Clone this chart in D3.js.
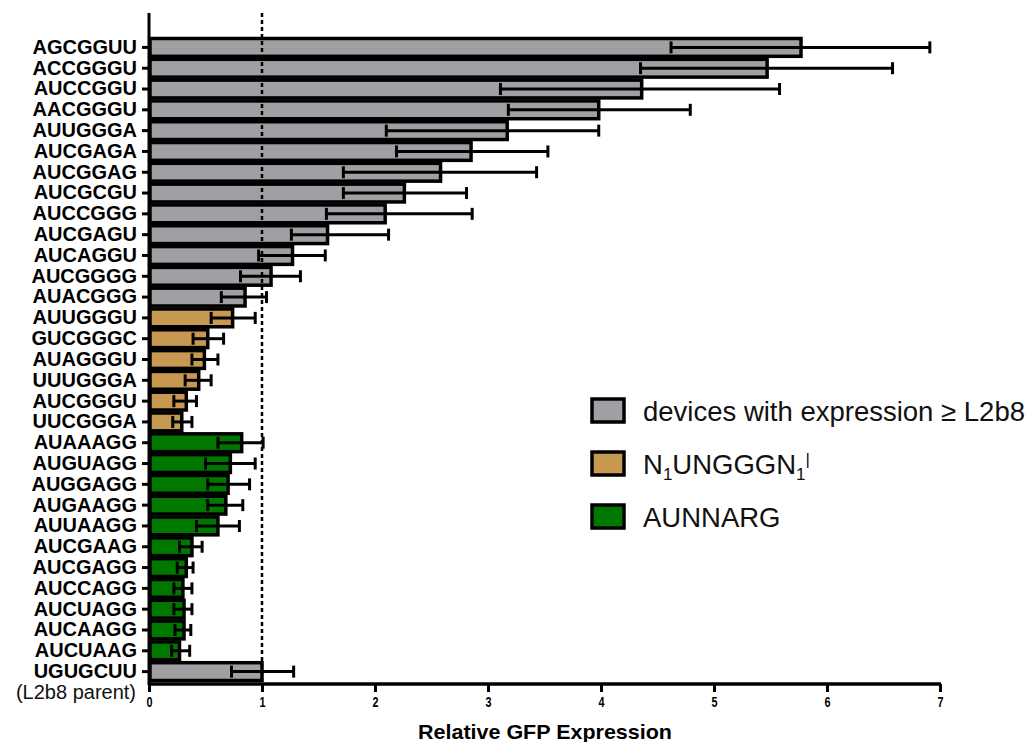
<!DOCTYPE html>
<html>
<head>
<meta charset="utf-8" />
<title>Relative GFP Expression</title>
<script src="https://cdn.jsdelivr.net/npm/d3@7"></script>
<style>
    body { margin: 0; background: #fff; }
    text { font-family: "Liberation Sans", Arial, sans-serif; }
</style>
</head>
<body>
<script>
    // data
    var sequences = ["AGCGGUU", "ACCGGGU", "AUCCGGU", "AACGGGU", "AUUGGGA", "AUCGAGA", "AUCGGAG",
        "AUCGCGU", "AUCCGGG", "AUCGAGU", "AUCAGGU", "AUCGGGG", "AUACGGG",
        "AUUGGGU", "GUCGGGC", "AUAGGGU", "UUUGGGA", "AUCGGGU", "UUCGGGA",
        "AUAAAGG", "AUGUAGG", "AUGGAGG", "AUGAAGG", "AUUAAGG", "AUCGAAG", "AUCGAGG",
        "AUCCAGG", "AUCUAGG", "AUCAAGG", "AUCUAAG", "UGUGCUU"];
    var groups = [0, 0, 0, 0, 0, 0, 0, 0, 0, 0, 0, 0, 0,
        1, 1, 1, 1, 1, 1,
        2, 2, 2, 2, 2, 2, 2, 2, 2, 2, 2, 0];
    var means = [5.77, 5.47, 4.36, 3.98, 3.17, 2.85, 2.58, 2.26, 2.09, 1.58, 1.27, 1.08, 0.85,
        0.74, 0.52, 0.49, 0.44, 0.33, 0.29,
        0.82, 0.72, 0.70, 0.68, 0.61, 0.38, 0.33, 0.30, 0.31, 0.31, 0.27, 1.00];
    var errLow = [4.62, 4.35, 3.11, 3.18, 2.10, 2.19, 1.72, 1.72, 1.57, 1.26, 0.97, 0.81, 0.64,
        0.55, 0.39, 0.38, 0.32, 0.22, 0.21,
        0.61, 0.50, 0.52, 0.52, 0.42, 0.27, 0.25, 0.22, 0.22, 0.23, 0.20, 0.73];
    var errHigh = [6.91, 6.58, 5.58, 4.79, 3.98, 3.53, 3.43, 2.81, 2.86, 2.12, 1.56, 1.34, 1.04,
        0.94, 0.66, 0.61, 0.55, 0.42, 0.38,
        1.01, 0.94, 0.89, 0.83, 0.80, 0.47, 0.39, 0.38, 0.38, 0.37, 0.36, 1.28];
    var xTicks = [0, 1, 2, 3, 4, 5, 6, 7];
    var groupNames = ["devices with expression \u2265 L2b8", "N1UNGGGN1", "AUNNARG"];
    var groupColors = ["#a09fa4", "#c79852", "#007800"];

    (function () {
        var width = 1029, height = 742;
        var plotLeft = 149, plotRight = 940, plotTop = 37, plotBottom = 682, axisY = 684;

        var svg = d3.select("body").append("svg")
            .attr("width", width)
            .attr("height", height);

        var x = d3.scaleLinear().domain([0, 7]).range([plotLeft, plotRight]);
        var y = d3.scaleBand().domain(sequences).range([plotTop, plotBottom]).padding(0);

        var rows = sequences.map(function (s, i) {
            return { seq: s, group: groups[i], value: means[i], lo: errLow[i], hi: errHigh[i] };
        });

        // bars
        svg.append("g").selectAll("rect")
            .data(rows)
            .enter().append("rect")
            .attr("x", x(0) + 1)
            .attr("y", function (d) { return y(d.seq) + 1.5; })
            .attr("width", function (d) { return x(d.value) - x(0) - 1; })
            .attr("height", y.bandwidth() - 3)
            .attr("fill", function (d) { return groupColors[d.group]; })
            .attr("stroke", "#000")
            .attr("stroke-width", 3.5);

        // reference line at 1
        svg.append("line")
            .attr("x1", x(1)).attr("x2", x(1))
            .attr("y1", 13).attr("y2", axisY)
            .attr("stroke", "#000")
            .attr("stroke-width", 2.5)
            .attr("stroke-dasharray", "4,3");

        // error bars
        var eb = svg.append("g").selectAll("g")
            .data(rows)
            .enter().append("g")
            .attr("transform", function (d) { return "translate(0," + (y(d.seq) + y.bandwidth() / 2) + ")"; });
        eb.append("line")
            .attr("x1", function (d) { return x(d.lo); })
            .attr("x2", function (d) { return x(d.hi); })
            .attr("stroke", "#000").attr("stroke-width", 3);
        eb.append("line")
            .attr("x1", function (d) { return x(d.lo); })
            .attr("x2", function (d) { return x(d.lo); })
            .attr("y1", -6).attr("y2", 6)
            .attr("stroke", "#000").attr("stroke-width", 3);
        eb.append("line")
            .attr("x1", function (d) { return x(d.hi); })
            .attr("x2", function (d) { return x(d.hi); })
            .attr("y1", -6).attr("y2", 6)
            .attr("stroke", "#000").attr("stroke-width", 3);

        // y axis
        var yAxis = svg.append("g")
            .attr("transform", "translate(" + plotLeft + ",0)")
            .call(d3.axisLeft(y).tickSize(7).tickPadding(5));
        yAxis.select(".domain").remove();
        yAxis.selectAll(".tick line").attr("stroke-width", 3);
        yAxis.selectAll(".tick text")
            .attr("font-size", 20)
            .attr("font-weight", "bold")
            .attr("fill", "#000")
            .style("font-family", "'Liberation Sans', Arial, sans-serif");
        svg.append("line")
            .attr("x1", plotLeft).attr("x2", plotLeft)
            .attr("y1", 13).attr("y2", axisY + 1)
            .attr("stroke", "#000").attr("stroke-width", 3);

        svg.append("text")
            .attr("x", 136).attr("y", 699)
            .attr("text-anchor", "end")
            .attr("font-size", 20)
            .attr("fill", "#111")
            .text("(L2b8 parent)");

        // x axis
        var xAxis = svg.append("g")
            .attr("transform", "translate(0," + axisY + ")")
            .call(d3.axisBottom(x).tickValues(xTicks).tickSize(8).tickPadding(4).tickFormat(d3.format("d")));
        xAxis.select(".domain").attr("stroke-width", 3.5)
            .attr("d", "M" + plotLeft + ",0H" + (plotRight + 1));
        xAxis.selectAll(".tick line").attr("stroke-width", 3);
        xAxis.selectAll(".tick text")
            .attr("font-size", 15)
            .attr("font-weight", "bold")
            .attr("fill", "#000")
            .attr("transform", "scale(0.72,1)")
            .style("font-family", "'Liberation Sans', Arial, sans-serif");

        svg.append("text")
            .attr("x", 545).attr("y", 739)
            .attr("text-anchor", "middle")
            .attr("font-size", 21)
            .attr("font-weight", "bold")
            .attr("textLength", 254)
            .attr("lengthAdjust", "spacingAndGlyphs")
            .text("Relative GFP Expression");

        // legend
        var legend = svg.append("g").selectAll("g")
            .data(groupNames)
            .enter().append("g")
            .attr("transform", function (d, i) { return "translate(592," + (399 + i * 53) + ")"; });
        legend.append("rect")
            .attr("width", 32).attr("height", 23)
            .attr("fill", function (d, i) { return groupColors[i]; })
            .attr("stroke", "#000").attr("stroke-width", 3.5);
        var lt = legend.append("text")
            .attr("x", 51).attr("y", 22)
            .attr("font-size", 27.5)
            .attr("fill", "#111");
        lt.each(function (d, i) {
            var t = d3.select(this);
            if (i === 1) {
                t.append("tspan").text("N");
                t.append("tspan").attr("font-size", 17).attr("dy", 6).text("1");
                t.append("tspan").attr("dy", -6).text("UNGGGN");
                t.append("tspan").attr("font-size", 17).attr("dy", 6).text("1");
                t.append("tspan").attr("font-size", 17).attr("dy", -15).text("|");
            } else {
                t.text(d);
            }
        });
    })();
</script>
</body>
</html>
